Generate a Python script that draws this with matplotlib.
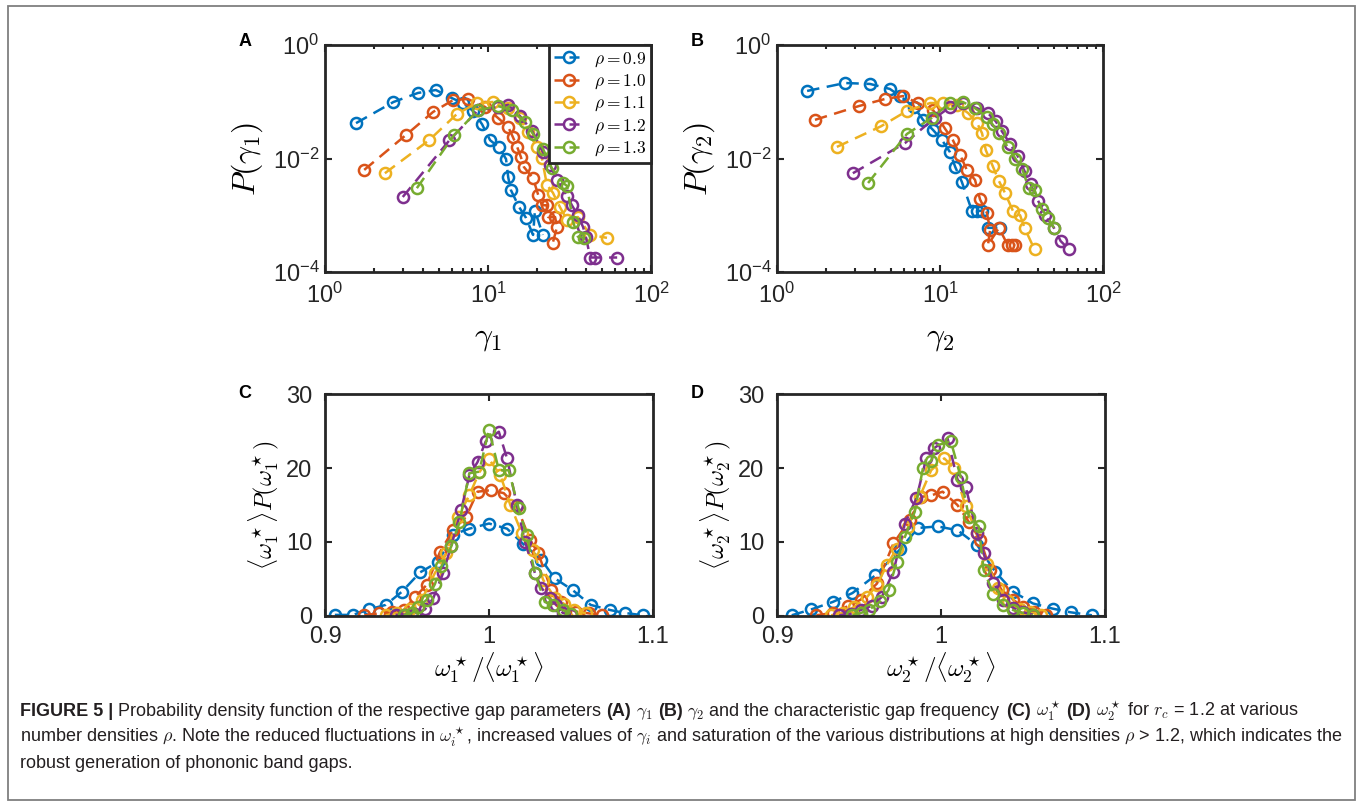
import matplotlib
matplotlib.use("Agg")
import matplotlib.pyplot as plt
from matplotlib import font_manager
from matplotlib.lines import Line2D
from matplotlib.patches import Rectangle
from matplotlib.ticker import FixedLocator, FixedFormatter, NullLocator

# tick labels: Helvetica-like mathtext; axis labels get Computer Modern per text
plt.rcParams['font.family'] = ['Liberation Sans', 'DejaVu Sans']
plt.rcParams['mathtext.fontset'] = 'custom'
plt.rcParams['mathtext.rm'] = 'Liberation Sans'
plt.rcParams['mathtext.it'] = 'Liberation Sans:italic'
plt.rcParams['mathtext.bf'] = 'Liberation Sans:bold'
plt.rcParams['mathtext.sf'] = 'Liberation Sans'

colors = ['#0072BD', '#D95319', '#EDB120', '#7E2F8E', '#77AC30']
rho_labels = ['0.9', '1.0', '1.1', '1.2', '1.3']

# panel A: P(gamma_1) for rho = 0.9 ... 1.3
gam1_x = [
    [1.55, 2.63, 3.72, 4.79, 6.0, 7.0, 8.1, 9.2, 10.3, 11.6, 12.9, 13.3, 13.8, 15.5, 17.1, 18.9, 19.4, 21.7],
    [1.74, 3.14, 4.6, 6.1, 7.5, 9.6, 11.5, 13.3, 14.2, 15.1, 15.9, 16.6, 18.9, 20.3, 21.4, 22.9, 23.4, 25.8, 26.5, 25.0],
    [2.33, 4.35, 6.45, 8.55, 10.7, 13.3, 15.7, 17.6, 20.0, 21.4, 23.0, 25.0, 27.6, 30.5, 35.6, 42.4, 53.7],
    [3.0, 5.8, 8.7, 11.5, 13.3, 15.7, 18.6, 21.7, 24.0, 26.5, 30.5, 32.7, 35.6, 38.3, 39.9, 42.4, 45.3, 62.0],
    [3.66, 6.2, 8.7, 11.5, 14.0, 16.9, 18.9, 21.7, 24.6, 28.9, 30.5, 33.3, 35.6, 38.7],
]
gam1_p = [
    [0.042, 0.099, 0.143, 0.161, 0.116, 0.095, 0.069, 0.040, 0.021, 0.016, 0.0098, 0.0047, 0.0028, 0.0014, 0.0009, 0.00045, 0.0012, 0.00045],
    [0.0063, 0.026, 0.066, 0.107, 0.112, 0.081, 0.052, 0.036, 0.024, 0.016, 0.0107, 0.0071, 0.0045, 0.0023, 0.0015, 0.0015, 0.00093, 0.00093, 0.00062, 0.00033],
    [0.0055, 0.021, 0.061, 0.095, 0.099, 0.078, 0.052, 0.029, 0.016, 0.0102, 0.0034, 0.0025, 0.0014, 0.00083, 0.00093, 0.00045, 0.0004],
    [0.0021, 0.021, 0.071, 0.081, 0.088, 0.056, 0.031, 0.013, 0.0077, 0.0042, 0.0022, 0.0015, 0.0010, 0.00062, 0.00041, 0.00018, 0.00018, 0.00018],
    [0.003, 0.026, 0.071, 0.084, 0.071, 0.044, 0.027, 0.015, 0.0068, 0.0037, 0.0033, 0.00076, 0.00042, 0.0004],
]

# panel B: P(gamma_2)
gam2_x = [
    [1.53, 2.61, 3.72, 4.93, 5.68, 6.93, 7.87, 9.05, 10.3, 11.5, 12.4, 13.6, 15.7, 16.9, 18.1, 19.7, 23.3],
    [1.71, 3.18, 4.6, 5.94, 7.3, 9.05, 10.7, 12.0, 13.3, 14.6, 16.4, 17.6, 19.4, 20.3, 19.7, 23.0, 26.0, 27.5, 29.0],
    [2.33, 4.35, 6.27, 8.7, 10.4, 12.7, 14.9, 16.9, 18.1, 19.1, 21.0, 23.0, 25.0, 28.0, 31.0, 33.0, 38.0],
    [2.92, 6.1, 9.3, 11.5, 13.8, 16.9, 19.7, 22.0, 24.0, 27.0, 30.0, 33.0, 36.0, 40.0, 44.0, 50.0, 55.0, 62.0],
    [3.62, 6.26, 8.9, 11.5, 13.8, 16.4, 19.4, 21.0, 23.0, 26.0, 29.0, 32.0, 35.0, 38.0, 42.0, 46.0, 50.0],
]
gam2_p = [
    [0.155, 0.214, 0.206, 0.168, 0.126, 0.081, 0.048, 0.032, 0.021, 0.013, 0.0071, 0.0039, 0.0012, 0.0012, 0.0012, 0.0006, 0.0006],
    [0.048, 0.084, 0.112, 0.126, 0.095, 0.072, 0.034, 0.021, 0.0115, 0.0063, 0.0042, 0.0019, 0.0011, 0.00055, 0.0003, 0.0006, 0.0003, 0.0003, 0.0003],
    [0.016, 0.037, 0.069, 0.095, 0.095, 0.088, 0.063, 0.042, 0.028, 0.014, 0.0075, 0.004, 0.0025, 0.0012, 0.001, 0.0006, 0.00025],
    [0.0055, 0.0187, 0.052, 0.08, 0.095, 0.077, 0.063, 0.045, 0.03, 0.018, 0.011, 0.006, 0.0035, 0.0018, 0.001, 0.0006, 0.00035, 0.00025],
    [0.0037, 0.027, 0.052, 0.095, 0.099, 0.077, 0.054, 0.04, 0.028, 0.016, 0.01, 0.0065, 0.003, 0.0028, 0.0013, 0.0009, 0.0006],
]

# panel C: <w1*> P(w1*) vs w1*/<w1*>
w1_x = [
    [0.906, 0.917, 0.927, 0.937, 0.947, 0.958, 0.969, 0.978, 0.988, 1.000, 1.011, 1.021, 1.032, 1.040, 1.051, 1.062, 1.074, 1.083, 1.094],
    [0.924, 0.933, 0.941, 0.948, 0.955, 0.962, 0.970, 0.978, 0.986, 0.993, 1.001, 1.009, 1.017, 1.025, 1.030, 1.038, 1.044, 1.053, 1.061, 1.069],
    [0.937, 0.944, 0.952, 0.959, 0.967, 0.974, 0.981, 0.988, 0.994, 1.000, 1.007, 1.013, 1.020, 1.027, 1.033, 1.040, 1.046, 1.052, 1.059],
    [0.943, 0.949, 0.955, 0.961, 0.966, 0.972, 0.977, 0.983, 0.988, 0.993, 0.998, 1.006, 1.011, 1.017, 1.022, 1.028, 1.032, 1.037, 1.041, 1.045, 1.050],
    [0.948, 0.953, 0.957, 0.962, 0.967, 0.971, 0.977, 0.982, 0.988, 0.994, 1.000, 1.006, 1.012, 1.018, 1.023, 1.028, 1.034, 1.039, 1.045, 1.050],
]
w1_p = [
    [0.15, 0.15, 0.9, 1.5, 3.3, 5.9, 7.3, 11.0, 11.8, 12.5, 11.8, 9.7, 7.6, 5.1, 3.5, 1.5, 0.8, 0.4, 0.1],
    [0.1, 0.35, 0.5, 0.8, 2.6, 4.2, 8.6, 11.6, 13.4, 16.8, 17.0, 16.6, 14.8, 10.3, 8.5, 3.5, 1.9, 0.6, 0.35, 0.15],
    [0.1, 0.4, 1.0, 2.2, 5.8, 8.5, 13.4, 16.3, 19.4, 21.2, 19.0, 15.0, 11.2, 8.9, 4.9, 2.5, 1.6, 0.8, 0.35],
    [0.15, 0.2, 0.3, 0.9, 2.4, 5.8, 9.5, 14.3, 19.0, 20.8, 23.6, 24.9, 21.3, 15.0, 10.0, 5.8, 3.8, 2.4, 1.5, 0.4, 0.2],
    [0.1, 0.4, 1.2, 2.2, 4.3, 6.7, 9.4, 12.7, 19.3, 19.5, 25.2, 19.7, 19.7, 14.6, 10.9, 5.8, 1.9, 1.5, 0.8, 0.3],
]

# panel D: <w2*> P(w2*) vs w2*/<w2*>
w2_x = [
    [0.909, 0.921, 0.934, 0.946, 0.960, 0.975, 0.986, 0.998, 1.010, 1.022, 1.033, 1.044, 1.056, 1.068, 1.079, 1.092],
    [0.924, 0.934, 0.943, 0.951, 0.961, 0.971, 0.981, 0.988, 0.994, 1.001, 1.010, 1.017, 1.024, 1.030, 1.037, 1.044, 1.050, 1.057, 1.064],
    [0.933, 0.940, 0.947, 0.955, 0.961, 0.967, 0.973, 0.980, 0.987, 0.994, 1.002, 1.008, 1.015, 1.022, 1.028, 1.035, 1.041, 1.048, 1.054, 1.061],
    [0.938, 0.945, 0.951, 0.958, 0.964, 0.971, 0.978, 0.985, 0.991, 0.996, 1.004, 1.010, 1.015, 1.022, 1.026, 1.032, 1.038, 1.044, 1.050, 1.056],
    [0.946, 0.951, 0.956, 0.963, 0.968, 0.973, 0.978, 0.984, 0.989, 0.994, 0.998, 1.006, 1.012, 1.017, 1.023, 1.026, 1.032, 1.038, 1.044, 1.050, 1.056],
]
w2_p = [
    [0.1, 0.9, 1.9, 3.1, 5.5, 9.0, 11.9, 12.1, 11.6, 9.6, 6.0, 3.3, 1.7, 1.0, 0.5, 0.1],
    [0.1, 0.4, 1.3, 2.2, 4.4, 9.8, 13.0, 16.1, 16.3, 16.8, 15.0, 12.7, 10.3, 6.2, 3.5, 2.2, 1.2, 0.5, 0.15],
    [0.1, 0.4, 1.2, 2.6, 4.2, 6.9, 9.1, 12.0, 16.1, 19.7, 21.3, 20.0, 14.8, 11.2, 7.0, 3.8, 2.0, 1.0, 0.5, 0.2],
    [0.1, 0.3, 0.8, 1.4, 2.6, 6.0, 12.5, 15.9, 21.3, 22.7, 24.0, 18.4, 17.5, 11.2, 8.5, 4.5, 2.2, 1.1, 0.5, 0.2],
    [0.1, 0.4, 0.8, 2.0, 3.5, 7.3, 10.7, 14.1, 20.0, 21.0, 23.1, 23.6, 18.8, 13.4, 12.1, 6.2, 3.0, 1.5, 0.8, 0.4, 0.1],
]

log_xticks = [1, 10, 100]
log_xlabels = [r'$10^{0}$', r'$10^{1}$', r'$10^{2}$']
log_yticks = [1e-4, 1e-2, 1]
log_ylabels = [r'$10^{-4}$', r'$10^{-2}$', r'$10^{0}$']
lin_xticks = [0.9, 1.0, 1.1]
lin_xlabels = ['0.9', '1', '1.1']
lin_yticks = [0, 10, 20, 30]
lin_ylabels = ['0', '10', '20', '30']

W, H = 1360, 806
fig = plt.figure(figsize=(W / 100, H / 100), dpi=100)
fig.add_artist(Rectangle((8 / W, 1 - 800 / H), 1347 / W, 794 / H, transform=fig.transFigure,
                         fill=False, edgecolor='#7f7f7f', lw=1.3))


def axes_px(left, top, right, bottom):
    return fig.add_axes([left / W, 1 - bottom / H, (right - left) / W, (bottom - top) / H])


def style(ax, xpad, ypad):
    for s in ax.spines.values():
        s.set_linewidth(2.0)
        s.set_color('#262626')
    ax.tick_params(which='both', direction='in', top=True, right=True, width=1.5,
                   colors='#262626', labelsize=17, labelcolor='#262626')
    ax.tick_params(which='major', length=5)
    ax.tick_params(which='minor', length=3)
    ax.tick_params(axis='x', pad=xpad)
    ax.tick_params(axis='y', pad=ypad)


def draw(ax, xs, ys):
    for x, y, c in zip(xs, ys, colors):
        ax.plot(x, y, '--', color=c, lw=1.8, marker='o', ms=8, mfc='none', mew=1.8,
                dashes=(5, 3))


axA = axes_px(325, 45, 651, 272)
axB = axes_px(777, 45, 1103, 272)
axC = axes_px(325, 394, 653, 616)
axD = axes_px(777, 394, 1105, 616)

for ax, xs, ys, lab in [(axA, gam1_x, gam1_p, '1'), (axB, gam2_x, gam2_p, '2')]:
    draw(ax, xs, ys)
    ax.set_xscale('log')
    ax.set_yscale('log')
    ax.set_xlim(1, 100)
    ax.set_ylim(1e-4, 1)
    ax.xaxis.set_major_locator(FixedLocator(log_xticks))
    ax.xaxis.set_major_formatter(FixedFormatter(log_xlabels))
    ax.yaxis.set_major_locator(FixedLocator(log_yticks))
    ax.yaxis.set_major_formatter(FixedFormatter(log_ylabels))
    ax.yaxis.set_minor_locator(NullLocator())
    style(ax, 8, 4)
    ax.set_xlabel(r'$\gamma_%s$' % lab, fontsize=23, math_fontfamily='cm')
    ax.set_ylabel(r'$P(\gamma_%s)$' % lab, fontsize=23, math_fontfamily='cm')
    ax.xaxis.set_label_coords(0.5, -0.225)
    ax.yaxis.set_label_coords(-0.185, 0.5)

for ax, xs, ys, lab in [(axC, w1_x, w1_p, '1'), (axD, w2_x, w2_p, '2')]:
    draw(ax, xs, ys)
    ax.set_xlim(0.9, 1.1)
    ax.set_ylim(0, 30)
    ax.xaxis.set_major_locator(FixedLocator(lin_xticks))
    ax.xaxis.set_major_formatter(FixedFormatter(lin_xlabels))
    ax.yaxis.set_major_locator(FixedLocator(lin_yticks))
    ax.yaxis.set_major_formatter(FixedFormatter(lin_ylabels))
    style(ax, 7, 9)
    ax.set_xlabel(r'$\omega_%s^\star/\langle\omega_%s^\star\rangle$' % (lab, lab), fontsize=18,
                  math_fontfamily='cm')
    ax.set_ylabel(r'$\langle\omega_%s^\star\rangle P(\omega_%s^\star)$' % (lab, lab), fontsize=17.5,
                  math_fontfamily='cm')
    ax.xaxis.set_label_coords(0.5, -0.155)
    ax.yaxis.set_label_coords(-0.135, 0.5)

handles = [Line2D([], [], ls='--', color=c, lw=1.8, marker='o', ms=8, mfc='none', mew=1.8,
                  dashes=(4, 2)) for c in colors]
leg = axA.legend(handles, [r'$\rho = %s$' % r for r in rho_labels], loc='upper right',
                 fontsize=12.5, frameon=True, fancybox=False, borderaxespad=0,
                 handlelength=1.7, handletextpad=0.6, labelspacing=0.22, borderpad=0.3)
for t in leg.get_texts():
    t.set_math_fontfamily('cm')
leg.get_frame().set_edgecolor('#262626')
leg.get_frame().set_linewidth(2.0)
leg.get_frame().set_alpha(1)

for letter, x, y in [('A', 245, 42), ('B', 697, 42), ('C', 245, 393), ('D', 697, 393)]:
    fig.text(x / W, 1 - y / H, letter, fontsize=13, fontweight='bold', ha='center', va='center')

# caption
try:
    font_manager.findfont(font_manager.FontProperties(family='Liberation Sans Narrow'),
                          fallback_to_default=False)
    cap_family = ['Liberation Sans Narrow', 'DejaVu Sans']
except Exception:
    cap_family = ['Liberation Sans', 'DejaVu Sans']

cap_lines = [
    [('FIGURE 5 |', True), ('Probability density function of the respective gap parameters', False),
     ('(A)', True), (r'$\gamma_1$', False), ('(B)', True),
     (r'$\gamma_2$ and the characteristic gap frequency', False), ('(C)', True),
     (r'$\omega_1^\star$', False), ('(D)', True),
     (r'$\omega_2^\star$ for $r_c$ = 1.2 at various', False)],
    [(r'number densities $\rho$. Note the reduced fluctuations in $\omega_i^\star$, increased values of '
      r'$\gamma_i$ and saturation of the various distributions at high densities $\rho$ > 1.2, '
      r'which indicates the', False)],
    [('robust generation of phononic band gaps.', False)],
]
renderer = fig.canvas.get_renderer()


def put_line(parts, y, fs):
    x = 20
    made = []
    probe1 = fig.text(0, 0, 'x x', fontsize=fs, family=cap_family)
    probe2 = fig.text(0, 0, 'xx', fontsize=fs, family=cap_family)
    gap = probe1.get_window_extent(renderer).width - probe2.get_window_extent(renderer).width
    probe1.remove()
    probe2.remove()
    for s, bold in parts:
        t = fig.text(x / W, 1 - y / H, s, fontsize=fs, family=cap_family, color='#231f20',
                     fontweight='bold' if bold else 'normal', ha='left', va='baseline',
                     math_fontfamily='cm')
        made.append(t)
        x += t.get_window_extent(renderer).width + gap
    return made, x - gap


tmp, end = put_line(cap_lines[0], 716, 12)
for t in tmp:
    t.remove()
cap_fs = 12 * (1300 - 20) / (end - 20)
for parts, y in zip(cap_lines, [716, 742, 768]):
    put_line(parts, y, cap_fs)

fig.savefig('out.png', dpi=100)
